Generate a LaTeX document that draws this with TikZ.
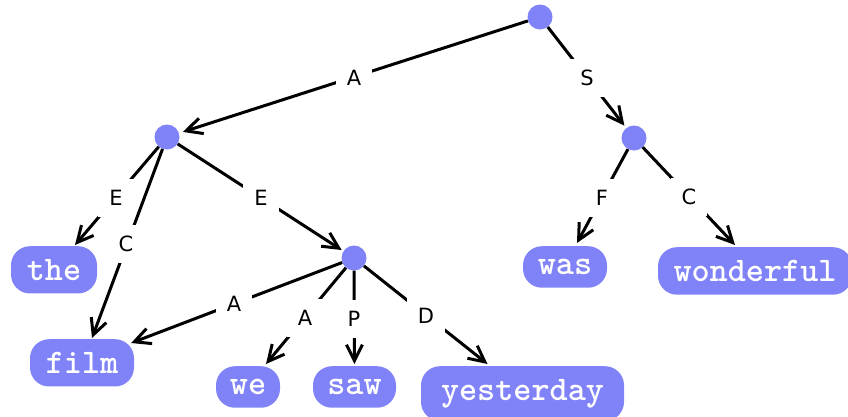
\documentclass[tikz,border=0pt]{standalone}
\usepackage{fontspec}
\newfontfamily\labfont{DejaVu Sans}
\newcommand\wordfnt{\ttfamily\bfseries\fontsize{34.5}{35}\selectfont}
\usetikzlibrary{arrows.meta,calc}
\definecolor{nodeblue}{RGB}{128,130,247}
\begin{document}
\begin{tikzpicture}[x=1pt,y=-1pt,
  hub/.style={circle,fill=nodeblue,minimum size=25pt,inner sep=0pt},
  word/.style={fill=nodeblue,rounded corners=19pt,text=white,
    font=\wordfnt,inner xsep=0pt,inner ysep=13pt,anchor=north},
  edge/.style={line width=3pt,-{Straight Barb[length=16pt,width=16pt]}},
  lab/.style={fill=white,inner sep=11pt,font=\labfont\fontsize{21}{21}\selectfont}]
\useasboundingbox (0,0) rectangle (848,416);
% hubs
\node[hub] (r) at (540,17) {};
\node[hub] (a) at (167,137) {};
\node[hub] (b) at (634,138) {};
\node[hub] (c) at (354,258) {};
% words
\node[word,minimum width=86pt] (the) at (54,246) {the};
\node[word,minimum width=104pt] (film) at (82,339) {film};
\node[word,minimum width=64pt] (we) at (248,366) {we};
\node[word,minimum width=83pt] (saw) at (354.5,366) {saw};
\node[word,minimum width=203pt] (yesterday) at (522.5,366) {yesterday};
\node[word,minimum width=84pt] (was) at (565,246) {was};
\node[word,minimum width=194pt] (wonderful) at (755,247) {wonderful};
% edge end points
\coordinate (the-in) at ($(the.north)+(21,-1)$);
\coordinate (film-inC) at ($(film.north)+(10,-1)$);
\coordinate (film-inA) at ($(film.north east)+(-3,4)$);
\coordinate (we-in) at ($(we.north)+(18,-2)$);
\coordinate (saw-in) at ($(saw.north)+(0,-2)$);
\coordinate (yesterday-in) at ($(yesterday.north)+(-35,-2)$);
\coordinate (was-in) at ($(was.north)+(12,-3)$);
\coordinate (wonderful-in) at ($(wonderful.north)+(-20,-2)$);
% edges
\draw[edge,shorten >=4pt] (r) -- (a);
\draw[edge,shorten >=3pt] (r) -- (b);
\draw[edge,shorten >=2pt] (a) -- (c);
\draw[edge] (a) -- (the-in);
\draw[edge] (a) -- (film-inC);
\draw[edge] (c) -- (film-inA);
\draw[edge] (c) -- (we-in);
\draw[edge] (c) -- (saw-in);
\draw[edge] (c) -- (yesterday-in);
\draw[edge] (b) -- (was-in);
\draw[edge] (b) -- (wonderful-in);
% labels
\node[lab] (l1) at (354,78) {A};
\node[lab] (l2) at (587,78) {S};
\node[lab] (l3) at (116,198) {E};
\node[lab] (l4) at (126,244) {C};
\node[lab] (l5) at (261,198) {E};
\node[lab] (l6) at (234,304) {A};
\node[lab] (l7) at (305,318) {A};
\node[lab] (l8) at (354,319) {P};
\node[lab] (l9) at (426,316) {D};
\node[lab] (l10) at (602,198) {F};
\node[lab] (l11) at (689,197) {C};
\end{tikzpicture}
\end{document}
